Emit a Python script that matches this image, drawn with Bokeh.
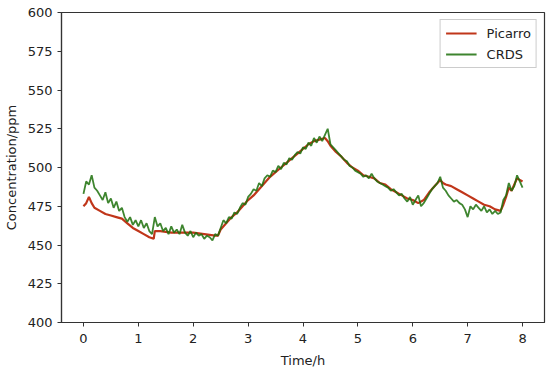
from bokeh.plotting import figure
from bokeh.models import Legend, LegendItem, FixedTicker, Range1d
from bokeh.embed import file_html
from bokeh.resources import INLINE

# CRDS series (time in h, concentration in ppm)
crds_t = [i * 0.05 for i in range(161)]
crds_c = [483, 491, 489, 495, 487, 485, 482, 479, 484, 477,
          480, 474, 478, 472, 474, 468, 465, 468, 463, 466,
          462, 466, 461, 464, 459, 457, 468, 462, 464, 459,
          461, 457, 462, 458, 460, 457, 463, 458, 456, 459,
          455, 458, 456, 457, 454, 456, 455, 453, 457, 456,
          461, 466, 464, 468, 467, 471, 470, 474, 477, 476,
          481, 483, 486, 485, 490, 488, 493, 495, 494, 498,
          497, 501, 499, 503, 502, 506, 505, 508, 510, 509,
          513, 512, 516, 514, 519, 516, 520, 517, 521, 525,
          515, 513, 511, 509, 507, 505, 504, 501, 500, 498,
          497, 496, 494, 495, 493, 496, 493, 491, 490, 489,
          488, 487, 485, 486, 484, 482, 483, 480, 478, 481,
          476, 479, 482, 475, 477, 480, 483, 486, 488, 490,
          494, 487, 485, 482, 480, 478, 479, 477, 476, 473,
          468, 475, 473, 476, 474, 472, 475, 471, 473, 470,
          472, 470, 471, 479, 482, 490, 485, 488, 495, 491,
          487]

# Picarro series
pic_t = [0.0, 0.05, 0.1, 0.15, 0.2, 0.3, 0.4, 0.5, 0.6, 0.7, 0.8, 0.9, 1.0,
         1.1, 1.2, 1.28, 1.3, 1.4, 1.6, 1.8, 2.0, 2.2, 2.4, 2.45, 2.5, 2.6,
         2.7, 2.8, 2.9, 3.0, 3.1, 3.2, 3.3, 3.4, 3.5, 3.6, 3.7, 3.8, 3.9, 4.0,
         4.1, 4.2, 4.3, 4.4, 4.45, 4.5, 4.6, 4.7, 4.8, 4.9, 5.0, 5.1, 5.2, 5.3,
         5.4, 5.5, 5.6, 5.7, 5.8, 5.9, 6.0, 6.1, 6.2, 6.3, 6.4, 6.5, 6.55, 6.6,
         6.7, 6.8, 6.9, 7.0, 7.1, 7.2, 7.3, 7.4, 7.5, 7.6, 7.65, 7.7, 7.75,
         7.8, 7.85, 7.9, 7.95, 8.0]
pic_c = [475, 477, 481, 477, 474, 472, 470, 469, 468, 467, 464, 461, 459,
         457, 455, 454, 459, 459, 458, 458, 458, 457, 456, 456, 460, 464,
         468, 471, 475, 479, 482, 486, 490, 494, 497, 500, 503, 506, 509, 512,
         515, 517, 518, 519, 517, 514, 510, 507, 503, 500, 498, 495, 494, 493,
         490, 489, 486, 484, 482, 480, 479, 477, 479, 484, 488, 492, 490, 489,
         488, 486, 484, 482, 480, 478, 476, 475, 473, 472, 476, 481, 487,
         485, 489, 493, 492, 491]

x_ticks = [0, 1, 2, 3, 4, 5, 6, 7, 8]
y_ticks = [400, 425, 450, 475, 500, 525, 550, 575, 600]

FONT = "DejaVu Sans"

p = figure(width=548, height=370, output_backend="svg", toolbar_location=None,
           x_range=Range1d(-0.4, 8.4), y_range=Range1d(400, 600),
           min_border_left=56, min_border_right=4, min_border_top=12,
           min_border_bottom=46)
p.background_fill_color = "white"
p.border_fill_color = "white"
p.outline_line_color = "#333333"
p.outline_line_width = 1.2
p.xgrid.visible = False
p.ygrid.visible = False

for ax in (p.xaxis[0], p.yaxis[0]):
    ax.axis_line_color = "#333333"
    ax.axis_line_width = 1.2
    ax.major_tick_line_color = "#333333"
    ax.major_tick_in = 0
    ax.major_tick_out = 4
    ax.minor_tick_line_color = None
    ax.major_label_text_font = FONT
    ax.major_label_text_font_size = "13px"
    ax.major_label_text_color = "#222222"
    ax.axis_label_text_font = FONT
    ax.axis_label_text_font_size = "13px"
    ax.axis_label_text_font_style = "normal"
    ax.axis_label_text_color = "#222222"

p.xaxis.ticker = FixedTicker(ticks=x_ticks)
p.yaxis.ticker = FixedTicker(ticks=y_ticks)
p.xaxis.axis_label = "Time/h"
p.yaxis.axis_label = "Concentration/ppm"
p.xaxis.major_label_standoff = 7
p.xaxis.axis_label_standoff = 7
p.yaxis.axis_label_standoff = 6

r1 = p.line(pic_t, pic_c, line_color="#c0361a", line_width=2.2)
r2 = p.line(crds_t, crds_c, line_color="#1c700a", line_width=1.8, line_alpha=0.85)

legend = Legend(items=[LegendItem(label="Picarro", renderers=[r1]),
                       LegendItem(label="CRDS", renderers=[r2])],
                location="top_right")
legend.label_text_font = FONT
legend.label_text_font_size = "13px"
legend.label_text_color = "#222222"
legend.border_line_color = "#cccccc"
legend.border_line_alpha = 1
legend.glyph_width = 31
legend.glyph_height = 16
legend.label_height = 16
legend.label_standoff = 10
legend.spacing = 5
legend.padding = 5
legend.margin = 7
legend.background_fill_alpha = 0.9
p.add_layout(legend)

open("out.html", "w").write(file_html(p, INLINE))
